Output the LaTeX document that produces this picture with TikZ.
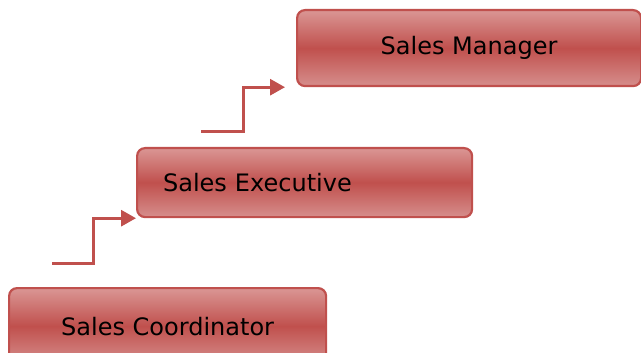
\documentclass[tikz,border=0pt]{standalone}
\usepackage{fontspec}
\setmainfont{DejaVu Sans}
\usetikzlibrary{arrows.meta}
\definecolor{boxlight}{RGB}{218,150,148}
\definecolor{boxlightb}{RGB}{214,142,140}
\definecolor{boxdark}{RGB}{192,80,77}
\definecolor{boxline}{RGB}{192,80,77}
\tikzset{
  rolebox/.style={draw=boxline, line width=2.2pt, rounded corners=8pt,
    top color=boxlight, bottom color=boxlightb, middle color=boxdark,
    minimum height=#1, inner sep=0pt, font=\fontsize{24}{28}\selectfont, anchor=north west},
  rolebox/.default=76pt,
  steparrow/.style={draw=boxline, line width=3pt,
    -{Triangle[length=15pt,width=16pt]}}
}
\begin{document}
\begin{tikzpicture}[x=1pt,y=-1pt]
\clip (0,0) rectangle (641,353);
\fill[white] (0,0) rectangle (641,353);
\node[rolebox, minimum width=344pt] (mgr) at (296,9) {Sales Manager};
\node[rolebox=69pt, text width=283pt, inner xsep=26pt, align=left] (exec) at (136,147) {Sales Executive};
\node[rolebox, minimum width=317pt] (coord) at (8,287) {Sales Coordinator};
\coordinate (s1) at (52,263);
\coordinate (k1) at (93,263);
\coordinate (s2) at (201,132);
\coordinate (k2) at (243,132);
\draw[steparrow] (s1) -- (k1) |- (exec.south west);
\draw[steparrow] (s2) -- (k2) |- ([xshift=-11pt]mgr.south west);
\end{tikzpicture}
\end{document}
